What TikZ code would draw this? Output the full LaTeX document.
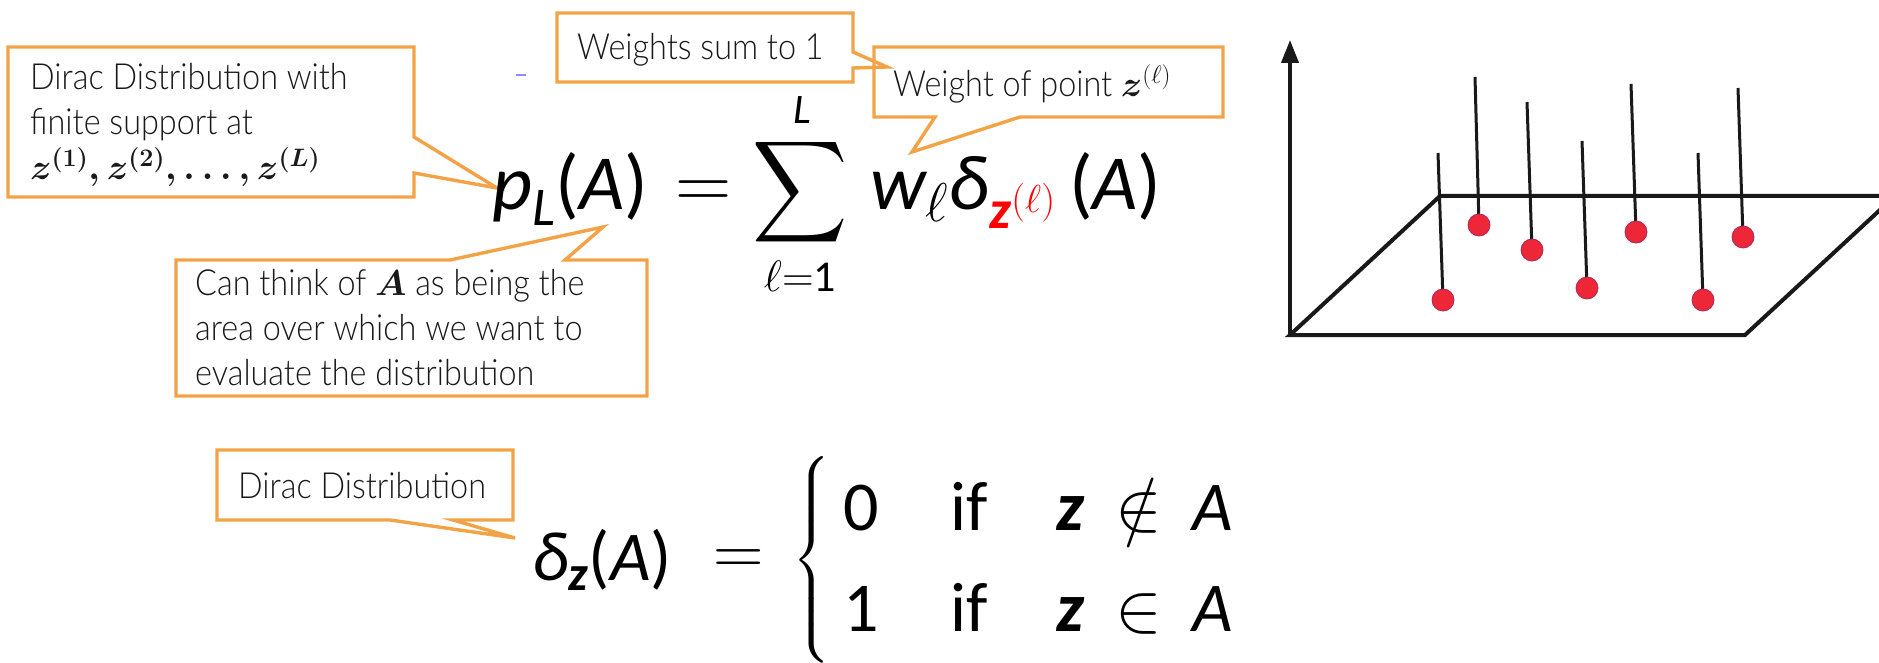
\RequirePackage{fix-cm}
\documentclass[tikz,border=0pt]{standalone}
\usepackage{amsmath}
\usepackage{bm}
\usepackage[no-math]{fontspec}
\usepackage{graphicx}
\usetikzlibrary{arrows.meta}
\IfFontExistsTF{Lato Light}{\setmainfont{Lato Light}[FakeStretch=0.9]}{\setmainfont{Lato}[FakeStretch=0.9]}
\newfontfamily\eqf{Carlito}
\newcommand\EI[1]{\text{\eqf\itshape #1}}
\newcommand\EB[1]{\text{\eqf\bfseries\itshape #1}}
\newcommand\ER[1]{\text{\eqf #1}}
\definecolor{callor}{RGB}{242,163,70}
\definecolor{dotred}{RGB}{237,38,56}
\definecolor{dotedge}{RGB}{170,40,90}
\definecolor{marklav}{RGB}{140,140,255}
\begin{document}
\begin{tikzpicture}[x=1pt,y=-1pt,
  callout/.style={draw=callor, line width=3.4pt, line join=miter},
  ctext/.style={anchor=base west, inner sep=0pt, font=\fontsize{36}{43}\selectfont, text=black!90},
  eqbig/.style={inner sep=0pt, font=\fontsize{78}{90}\selectfont},
  eqmid/.style={inner sep=0pt, font=\fontsize{70}{80}\selectfont},
  plotline/.style={line width=4pt, black!90},
  stemline/.style={line width=3pt, black!90},
  dotstyle/.style={fill=dotred, draw=dotedge, line width=0.8pt}]
\useasboundingbox (0,0) rectangle (1879,663);

% callout outlines
\draw[callout] (8,47) -- (414,47) -- (414,137) -- (497,188) -- (414,173) -- (414,197) -- (8,197) -- cycle;
\draw[callout] (874,47) -- (1223,47) -- (1223,117) -- (1020,117) -- (912,152) -- (935,117) -- (874,117) -- cycle;
\draw[callout] (557,13) -- (853,13) -- (853,52) -- (887,67) -- (853,68) -- (853,82) -- (557,82) -- cycle;
\draw[callout] (176,260) -- (450,260) -- (603,227) -- (565,260) -- (647,260) -- (647,396) -- (176,396) -- cycle;
\draw[callout] (217,450) -- (513,450) -- (513,520) -- (453,520) -- (515,538) -- (390,520) -- (217,520) -- cycle;

% callout texts
\node[ctext] (d1) at (30,90) {Dirac Distribution with};
\node[ctext] (d2) at (30,135) {finite support at};
\node[ctext] (d3) at (30,180) {{\boldmath$z^{(1)}, z^{(2)}, \ldots, z^{(L)}$}};
\node[ctext] (ws) at (577,60) {Weights sum to 1};
\node[ctext] (wp) at (893,97) {Weight of point $\bm{z}^{(\ell)}$};
\node[ctext] (a1) at (195,295) {Can think of $\bm{A}$ as being the};
\node[ctext] (a2) at (195,340) {area over which we want to};
\node[ctext] (a3) at (195,385) {evaluate the distribution};
\node[ctext] (dd) at (238,498) {Dirac Distribution};

% small mark
\draw[marklav, line width=2pt] (516,75) -- (526,75);

% main equation
\node[eqbig, anchor=base west] (lhs) at (492,210) {$\EI{p}_{\EI{L}}\ER{(}\EI{A}\ER{)}$};
\node[eqbig] (eqa) at (704,195) {$=$};
\node[inner sep=0pt] (sum) at (800.5,192) {\scalebox{6.6}[7.1]{$\displaystyle\sum$}};
\node[inner sep=0pt, font=\fontsize{42}{44}\selectfont] (up) at (802,110) {$\EI{L}$};
\node[inner sep=0pt, font=\fontsize{44}{50}\selectfont] (low) at (800,276) {$\ell{=}\ER{1}$};
\node[eqbig, anchor=base west] (rhs) at (870,210) {$\EI{w}_{\ell}\EI{δ}_{\textcolor{red}{\EB{z}^{(\ell)}}}\,\ER{(}\EI{A}\ER{)}$};

% Dirac definition
\node[eqmid, anchor=base west] (lhsb) at (532,580) {$\EI{δ}_{\EB{z}}\ER{(}\EI{A}\ER{)}$};
\node[eqmid] (eqb) at (739,562) {$=$};
\node[inner sep=0pt] (brace) at (814,560) {\scalebox{4.3}{$\left\{\vcenter{\hrule height 47pt width 0pt}\right.$}};
\node[eqmid, anchor=base west] (v0) at (843,530) {$\ER{0}$};
\node[eqmid, anchor=base west] (if0) at (950,530) {\eqf if};
\node[eqmid, anchor=base west] (c0) at (1056,530) {$\EB{z}\,\notin\,\EI{A}$};
\node[eqmid, anchor=base west] (v1) at (843,631) {$\ER{1}$};
\node[eqmid, anchor=base west] (if1) at (950,631) {\eqf if};
\node[eqmid, anchor=base west] (c1) at (1056,631) {$\EB{z}\,\in\,\EI{A}$};

% plot
\draw[plotline, -{Triangle[width=17pt,length=23pt]}] (1290,337) -- (1290,40);
\draw[plotline, line join=miter] (1290,335) -- (1745,335) -- (1895,196) -- (1440,196) -- cycle;
\foreach \tx/\ty/\px/\py in {1438/153/1443/300, 1475/77/1479/225, 1527/102/1532/250, 1582/141/1587/288, 1631/84/1636/232, 1698/153/1703/300, 1738/88/1743/237}{
  \draw[stemline] (\tx,\ty) -- (\px,\py);
  \filldraw[dotstyle] (\px,\py) circle (11pt);
}
\end{tikzpicture}
\end{document}
